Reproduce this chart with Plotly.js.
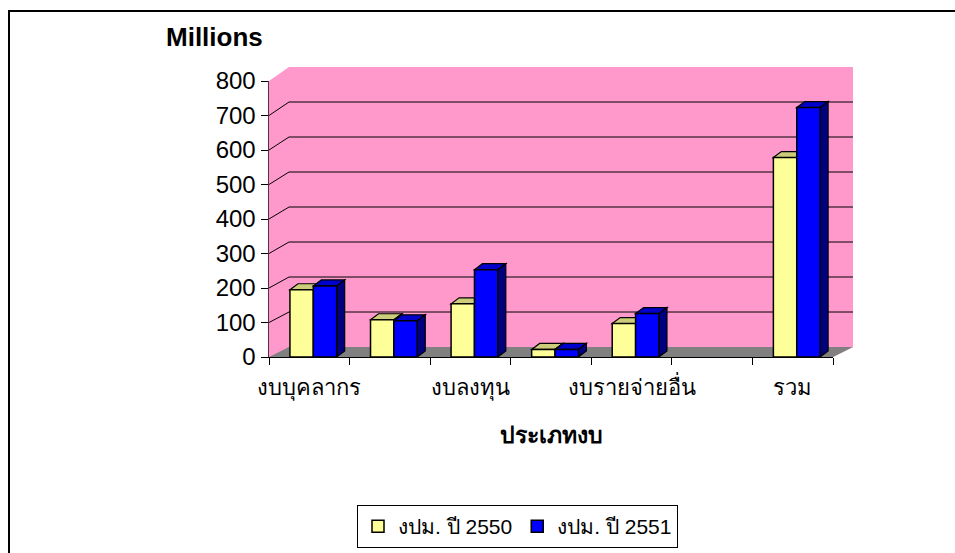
<!DOCTYPE html>
<html>
<head>
<meta charset="utf-8">
<script src="https://cdn.plot.ly/plotly-3.0.1.min.js"></script>
<style>
  html, body { margin: 0; padding: 0; background: #fff; }
  #chart { width: 955px; height: 553px; }
</style>
</head>
<body>
<div id="chart"></div>
<script>
// ---- data ----
const categories = ['งบบุคลากร', 'งบดำเนินงาน', 'งบลงทุน', 'งบอุดหนุน', 'งบรายจ่ายอื่น', ' ', 'รวม'];
const shownLabels = ['งบบุคลากร', ' ', 'งบลงทุน', ' ', 'งบรายจ่ายอื่น', ' ', 'รวม'];
const series2550 = [195, 108, 154, 22, 97, null, 578];
const series2551 = [206, 105, 253, 22, 126, null, 723];
const seriesNames = ['งปม. ปี 2550', 'งปม. ปี 2551'];
const yTicks = [0, 100, 200, 300, 400, 500, 600, 700, 800];

// ---- geometry (style) ----
const FONT = 'Liberation Sans, Arial, sans-serif';
const M = { l: 269, r: 102, t: 67, b: 196 };
const PW = 955 - M.l - M.r;      // paper width (584)
const PH = 553 - M.t - M.b;      // paper height (290)
const FRONT_W = 564, FRONT_H = 276; // front plane size
const BACK_DX = 20, BACK_DY = 10;  // back wall offset in px
const BAR_DX = 8, BAR_DY = 6;      // bar depth in px
const yMax = 800;
const nCat = categories.length;
const dX = BAR_DX / (FRONT_W / nCat);
const dY = BAR_DY / (FRONT_H / yMax);

const traces = [
  { name: seriesNames[0], vals: series2550, color: '#FFFF99', top: '#CCCC7A', side: '#99995C', offset: -0.24, width: 0.29 },
  { name: seriesNames[1], vals: series2551, color: '#0000FF', top: '#0000CC', side: '#000080', offset: 0.05, width: 0.29 }
];

const data = traces.map(t => ({
  type: 'bar',
  name: t.name,
  x: categories,
  y: t.vals,
  offset: t.offset,
  width: t.width,
  marker: { color: t.color, line: { color: '#000', width: 1.5 } },
  hoverinfo: 'skip'
}));

const shapes = [];
// outer chart frame
const px2paperX = px => (px - M.l) / PW;
const px2paperY = py => (553 - M.b - py) / PH;
shapes.push({ type: 'rect', xref: 'paper', yref: 'paper', layer: 'below',
  x0: px2paperX(9), x1: px2paperX(975), y0: px2paperY(575), y1: px2paperY(11),
  line: { color: '#000', width: 2 }, fillcolor: 'rgba(0,0,0,0)' });

// walls (pink) and floor (gray)
const fx = FRONT_W / PW, fy = FRONT_H / PH, bx = BACK_DX / PW, by = BACK_DY / PH;
shapes.push({ type: 'path', xref: 'paper', yref: 'paper', layer: 'below',
  path: `M0,0 L0,${fy} L${bx},1 L1,1 L1,${by} L${fx},0 Z`,
  fillcolor: '#FF99CC', line: { width: 0 } });
shapes.push({ type: 'path', xref: 'paper', yref: 'paper', layer: 'below',
  path: `M0,0 L${fx},0 L1,${by} L${bx},${by} Z`,
  fillcolor: '#808080', line: { width: 0 } });

// back-wall gridlines and left-wall connectors
yTicks.filter(v => v > 0 && v < yMax).forEach(v => {
  const yf = (v / yMax) * fy;
  const yb = by + (v / yMax) * (1 - by);
  shapes.push({ type: 'path', xref: 'paper', yref: 'paper', layer: 'below',
    path: `M0,${yf} L${bx},${yb} L1,${yb}`,
    line: { color: '#000', width: 1 } });
});

// 3D faces of the bars
traces.forEach(t => {
  t.vals.forEach((v, i) => {
    if (v == null) return;
    const xl = i + t.offset, xr = i + t.offset + t.width;
    shapes.push({ type: 'path', xref: 'x', yref: 'y', layer: 'below',
      path: `M${xl},${v} L${xl + dX},${v + dY} L${xr + dX},${v + dY} L${xr},${v} Z`,
      fillcolor: t.top, line: { color: '#000', width: 1.2 } });
    shapes.push({ type: 'path', xref: 'x', yref: 'y', layer: 'below',
      path: `M${xr},0 L${xr + dX},${dY} L${xr + dX},${v + dY} L${xr},${v} Z`,
      fillcolor: t.side, line: { color: '#000', width: 1.2 } });
  });
});

const layout = {
  width: 955, height: 553,
  margin: M,
  paper_bgcolor: '#fff',
  plot_bgcolor: 'rgba(0,0,0,0)',
  font: { family: FONT, color: '#000' },
  showlegend: true,
  barmode: 'group',
  title: { text: '<b>Millions</b>', font: { family: FONT, size: 26, color: '#000' },
    xref: 'container', yref: 'container', x: 166 / 955, xanchor: 'left', y: 1 - 37 / 553, yanchor: 'middle' },
  xaxis: {
    domain: [0, fx], type: 'category', categoryorder: 'array', categoryarray: categories,
    tickmode: 'array', tickvals: categories, ticktext: shownLabels, tickson: 'boundaries',
    tickangle: 0, ticklabelstandoff: 11,
    ticks: 'outside', ticklen: 7, tickcolor: '#000', tickwidth: 1,
    showline: true, linecolor: '#000', linewidth: 1, showgrid: false, zeroline: false,
    tickfont: { size: 22, family: FONT },
    title: { text: '<b>ประเภทงบ</b>', font: { size: 23, family: FONT }, standoff: 26 },
    fixedrange: true
  },
  yaxis: {
    domain: [0, fy], range: [0, yMax], tickmode: 'array', tickvals: yTicks,
    ticks: 'outside', ticklen: 7, tickcolor: '#000', tickwidth: 1,
    showline: true, linecolor: '#5a3048', linewidth: 1.5, showgrid: false, zeroline: false,
    tickfont: { size: 24, family: FONT }, fixedrange: true
  },
  legend: {
    orientation: 'h', xref: 'container', yref: 'container',
    x: 357 / 955, xanchor: 'left', y: 1 - 505 / 553, yanchor: 'top',
    bordercolor: '#000', borderwidth: 1, bgcolor: '#fff',
    font: { size: 21, family: FONT }, traceorder: 'normal', itemwidth: 30
  },
  shapes: shapes
};

Plotly.newPlot('chart', data, layout, { displayModeBar: false, staticPlot: true });
</script>
</body>
</html>
